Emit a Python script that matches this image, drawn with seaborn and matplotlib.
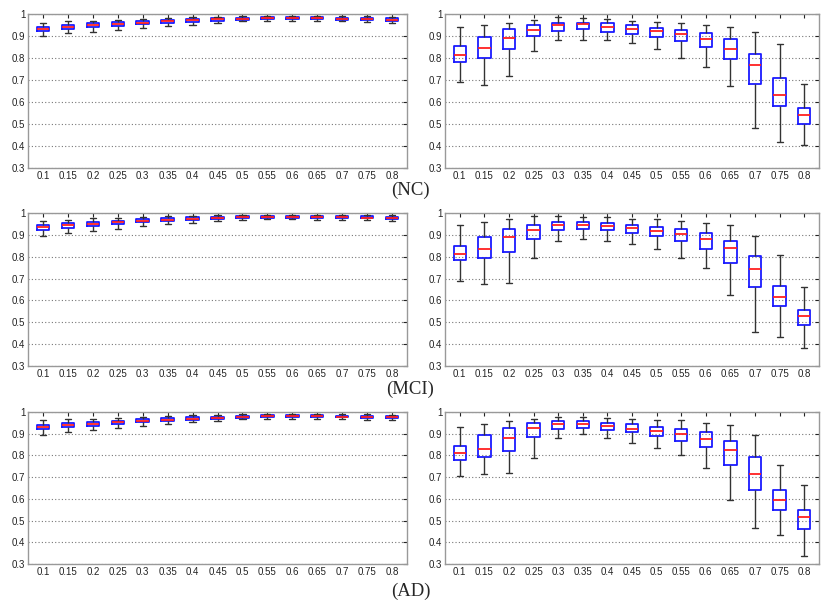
import numpy as np
import pandas as pd
import matplotlib
matplotlib.use("Agg")
import matplotlib.pyplot as plt
import seaborn as sns

THRESHOLDS = ["0.1", "0.15", "0.2", "0.25", "0.3", "0.35", "0.4", "0.45",
              "0.5", "0.55", "0.6", "0.65", "0.7", "0.75", "0.8"]
GROUPS = ["(NC)", "(MCI)", "(AD)"]

# each row: [min, q1, median, q3, max]
NC_LEFT = [
    [0.900, 0.921, 0.930, 0.939, 0.961],
    [0.912, 0.930, 0.941, 0.950, 0.967],
    [0.920, 0.939, 0.948, 0.958, 0.970],
    [0.927, 0.945, 0.955, 0.962, 0.974],
    [0.938, 0.953, 0.960, 0.968, 0.979],
    [0.945, 0.958, 0.967, 0.973, 0.982],
    [0.952, 0.965, 0.971, 0.977, 0.985],
    [0.959, 0.970, 0.976, 0.980, 0.988],
    [0.967, 0.974, 0.979, 0.983, 0.989],
    [0.968, 0.976, 0.980, 0.985, 0.991],
    [0.970, 0.976, 0.980, 0.985, 0.991],
    [0.969, 0.976, 0.980, 0.985, 0.991],
    [0.966, 0.975, 0.979, 0.984, 0.990],
    [0.963, 0.972, 0.977, 0.982, 0.989],
    [0.958, 0.969, 0.975, 0.980, 0.988],
]
NC_RIGHT = [
    [0.690, 0.784, 0.815, 0.856, 0.942],
    [0.679, 0.800, 0.844, 0.896, 0.951],
    [0.716, 0.841, 0.890, 0.930, 0.960],
    [0.832, 0.899, 0.927, 0.950, 0.972],
    [0.881, 0.924, 0.948, 0.960, 0.985],
    [0.881, 0.930, 0.953, 0.960, 0.980],
    [0.881, 0.920, 0.942, 0.957, 0.977],
    [0.868, 0.908, 0.933, 0.950, 0.969],
    [0.839, 0.894, 0.922, 0.937, 0.962],
    [0.800, 0.878, 0.907, 0.927, 0.957],
    [0.758, 0.850, 0.885, 0.914, 0.951],
    [0.674, 0.794, 0.841, 0.885, 0.942],
    [0.483, 0.682, 0.766, 0.820, 0.916],
    [0.417, 0.583, 0.631, 0.708, 0.865],
    [0.404, 0.501, 0.541, 0.575, 0.682],
]
MCI_LEFT = [
    [0.896, 0.922, 0.934, 0.946, 0.965],
    [0.907, 0.931, 0.943, 0.954, 0.969],
    [0.919, 0.940, 0.949, 0.959, 0.975],
    [0.928, 0.948, 0.957, 0.965, 0.979],
    [0.939, 0.957, 0.965, 0.972, 0.982],
    [0.948, 0.963, 0.969, 0.977, 0.985],
    [0.956, 0.968, 0.974, 0.980, 0.988],
    [0.963, 0.974, 0.979, 0.983, 0.989],
    [0.969, 0.977, 0.981, 0.985, 0.990],
    [0.971, 0.978, 0.982, 0.986, 0.991],
    [0.971, 0.978, 0.982, 0.986, 0.991],
    [0.970, 0.978, 0.982, 0.986, 0.991],
    [0.969, 0.977, 0.981, 0.985, 0.991],
    [0.966, 0.975, 0.979, 0.984, 0.990],
    [0.962, 0.972, 0.977, 0.982, 0.989],
]
MCI_RIGHT = [
    [0.690, 0.783, 0.812, 0.848, 0.946],
    [0.674, 0.793, 0.835, 0.888, 0.960],
    [0.678, 0.822, 0.890, 0.926, 0.974],
    [0.793, 0.882, 0.923, 0.946, 0.985],
    [0.870, 0.923, 0.946, 0.960, 0.988],
    [0.880, 0.928, 0.946, 0.957, 0.980],
    [0.874, 0.920, 0.942, 0.954, 0.980],
    [0.858, 0.908, 0.930, 0.945, 0.974],
    [0.835, 0.896, 0.917, 0.934, 0.972],
    [0.793, 0.870, 0.902, 0.926, 0.965],
    [0.750, 0.835, 0.882, 0.908, 0.954],
    [0.626, 0.770, 0.839, 0.874, 0.944],
    [0.456, 0.662, 0.746, 0.804, 0.897],
    [0.432, 0.573, 0.617, 0.668, 0.806],
    [0.384, 0.486, 0.528, 0.556, 0.663],
]
AD_LEFT = [
    [0.895, 0.920, 0.929, 0.939, 0.962],
    [0.908, 0.929, 0.939, 0.948, 0.966],
    [0.917, 0.937, 0.946, 0.955, 0.970],
    [0.925, 0.944, 0.952, 0.960, 0.974],
    [0.935, 0.952, 0.959, 0.966, 0.978],
    [0.944, 0.958, 0.965, 0.972, 0.982],
    [0.952, 0.964, 0.970, 0.976, 0.985],
    [0.959, 0.969, 0.974, 0.979, 0.987],
    [0.966, 0.973, 0.978, 0.982, 0.989],
    [0.969, 0.976, 0.980, 0.984, 0.990],
    [0.969, 0.976, 0.980, 0.984, 0.990],
    [0.969, 0.976, 0.980, 0.984, 0.990],
    [0.968, 0.975, 0.979, 0.983, 0.990],
    [0.965, 0.973, 0.978, 0.982, 0.989],
    [0.962, 0.971, 0.976, 0.981, 0.988],
]
AD_RIGHT = [
    [0.706, 0.781, 0.810, 0.844, 0.931],
    [0.715, 0.795, 0.828, 0.893, 0.945],
    [0.721, 0.822, 0.879, 0.925, 0.960],
    [0.787, 0.885, 0.926, 0.948, 0.969],
    [0.882, 0.923, 0.945, 0.957, 0.979],
    [0.899, 0.928, 0.945, 0.957, 0.977],
    [0.879, 0.917, 0.937, 0.948, 0.971],
    [0.856, 0.907, 0.923, 0.943, 0.969],
    [0.832, 0.890, 0.914, 0.933, 0.963],
    [0.802, 0.865, 0.897, 0.920, 0.962],
    [0.744, 0.838, 0.874, 0.907, 0.949],
    [0.594, 0.755, 0.824, 0.865, 0.940],
    [0.467, 0.642, 0.715, 0.792, 0.894],
    [0.432, 0.550, 0.594, 0.639, 0.757],
    [0.335, 0.461, 0.515, 0.550, 0.665],
]

PANELS = [(NC_LEFT, NC_RIGHT), (MCI_LEFT, MCI_RIGHT), (AD_LEFT, AD_RIGHT)]


def to_frame(summary):
    # five values per threshold -> quartiles come out exactly with whis=(0, 100)
    rows = []
    for label, vals in zip(THRESHOLDS, summary):
        for v in vals:
            rows.append({"threshold": label, "value": v})
    return pd.DataFrame(rows)


def draw_panel(ax, summary):
    df = to_frame(summary)
    sns.boxplot(data=df, x="threshold", y="value", order=THRESHOLDS, ax=ax,
                fill=False, color="#1a1aff", width=0.5, whis=(0, 100),
                linewidth=1.3, fliersize=0,
                medianprops={"color": "#ff2020", "linewidth": 1.3},
                whiskerprops={"color": "#333333", "linewidth": 1.0},
                capprops={"color": "#333333", "linewidth": 1.0})
    ax.set_ylim(0.3, 1.0)
    ax.set_xlim(-0.6, len(THRESHOLDS) - 0.4)
    ax.set_yticks(np.arange(0.3, 1.001, 0.1))
    ax.set_yticklabels(["0.3", "0.4", "0.5", "0.6", "0.7", "0.8", "0.9", "1"])
    ax.set_xlabel("")
    ax.set_ylabel("")
    ax.yaxis.grid(True, linestyle=(0, (1, 2)), color="#777777", linewidth=0.8)
    ax.xaxis.grid(False)
    ax.set_axisbelow(True)
    ax.tick_params(direction="in", top=True, right=True, length=3,
                   labelsize=7, colors="#222222", pad=2)
    for s in ax.spines.values():
        s.set_color("#999999")
        s.set_linewidth(1.0)


sns.set_style("white")
plt.rcParams["font.family"] = ["Liberation Sans", "DejaVu Sans"]

fig = plt.figure(figsize=(8.21, 6.03), dpi=100)

rows_px = [(14, 168), (213, 366), (412, 564)]
label_y = [190, 389, 591]
W, H = 821.0, 603.0

for i, (left_data, right_data) in enumerate(PANELS):
    top, bot = rows_px[i]
    ax_l = fig.add_axes([28 / W, 1 - bot / H, 379 / W, (bot - top) / H])
    ax_r = fig.add_axes([445 / W, 1 - bot / H, 374 / W, (bot - top) / H])
    draw_panel(ax_l, left_data)
    draw_panel(ax_r, right_data)
    fig.text(0.5, 1 - label_y[i] / H, GROUPS[i], ha="center", va="center",
             fontsize=13.5, family=["Liberation Serif", "DejaVu Serif"])

fig.savefig("out.png", dpi=100)
